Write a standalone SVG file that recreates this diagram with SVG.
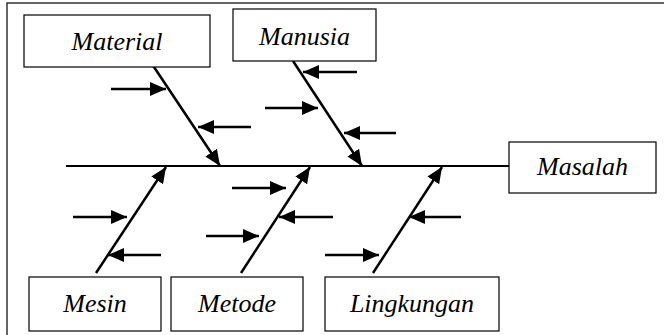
<svg xmlns="http://www.w3.org/2000/svg" width="664" height="335" viewBox="0 0 664 335">
  <style>
    .box { fill: #fff; stroke: #000; stroke-width: 1.2; }
    .lbl { font-family: "Liberation Serif", "Times New Roman", serif; font-style: italic; font-size: 26px; fill: #000; text-anchor: middle; }
    .bone { stroke: #000; stroke-width: 2.5; fill: none; marker-end: url(#head); }
    .spine { stroke: #000; stroke-width: 2.2; fill: none; }
    .frame { stroke: #333; stroke-width: 1.5; fill: none; }
  </style>
  <defs>
    <marker id="head" markerUnits="userSpaceOnUse" markerWidth="16" markerHeight="14" refX="16" refY="7" orient="auto">
      <path d="M0,0 L16,7 L0,14 Z" fill="#000"/>
    </marker>
  </defs>

  <rect width="664" height="335" fill="#fff"/>
  <!-- outer frame: top and left edges only fall inside the canvas -->
  <path class="frame" d="M7,335 V3 H664"/>

  <g id="connectors">
    <!-- main spine -->
    <line class="spine" x1="66" y1="166" x2="509" y2="166"/>
    <!-- main bones -->
    <line class="bone" x1="150" y1="61" x2="220" y2="166"/>
    <line class="bone" x1="293" y1="61" x2="362" y2="166"/>
    <line class="bone" x1="96" y1="273" x2="166" y2="167"/>
    <line class="bone" x1="241" y1="273" x2="310" y2="167"/>
    <line class="bone" x1="373" y1="273" x2="442" y2="167"/>
    <!-- cause arrows: Material -->
    <line class="bone" x1="111" y1="89" x2="166" y2="89"/>
    <line class="bone" x1="251" y1="127" x2="198" y2="127"/>
    <!-- cause arrows: Manusia -->
    <line class="bone" x1="357" y1="72" x2="303" y2="72"/>
    <line class="bone" x1="265" y1="108" x2="318" y2="108"/>
    <line class="bone" x1="396" y1="133" x2="344" y2="133"/>
    <!-- cause arrows: Mesin -->
    <line class="bone" x1="73" y1="217" x2="127" y2="217"/>
    <line class="bone" x1="161" y1="255" x2="108" y2="255"/>
    <!-- cause arrows: Metode -->
    <line class="bone" x1="232" y1="188" x2="286" y2="188"/>
    <line class="bone" x1="333" y1="217" x2="279" y2="217"/>
    <line class="bone" x1="206" y1="236" x2="259" y2="236"/>
    <!-- cause arrows: Lingkungan -->
    <line class="bone" x1="461" y1="217" x2="409" y2="217"/>
    <line class="bone" x1="325" y1="255" x2="379" y2="255"/>
  </g>

  <g id="material">
    <rect class="box" x="24" y="15" width="186" height="52"/>
    <text class="lbl" x="117" y="50">Material</text>
  </g>
  <g id="manusia">
    <rect class="box" x="233" y="9" width="143" height="52"/>
    <text class="lbl" x="304.5" y="45">Manusia</text>
  </g>
  <g id="masalah">
    <rect class="box" x="509" y="142" width="147" height="51"/>
    <text class="lbl" x="582.5" y="175">Masalah</text>
  </g>
  <g id="mesin">
    <rect class="box" x="29" y="277" width="132" height="54"/>
    <text class="lbl" x="95" y="312">Mesin</text>
  </g>
  <g id="metode">
    <rect class="box" x="171" y="277" width="132" height="54"/>
    <text class="lbl" x="237" y="312">Metode</text>
  </g>
  <g id="lingkungan">
    <rect class="box" x="325" y="277" width="174" height="54"/>
    <text class="lbl" x="412" y="312">Lingkungan</text>
  </g>
</svg>
